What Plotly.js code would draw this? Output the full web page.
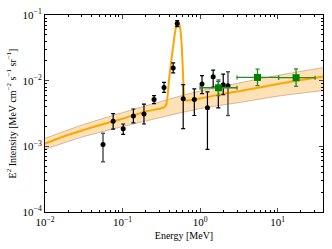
<!DOCTYPE html>
<html>
<head>
<meta charset="utf-8">
<script src="https://cdn.plot.ly/plotly-3.0.1.min.js"></script>
<style>html,body{margin:0;padding:0;background:#fff;}#chart{width:332px;height:249px;}</style>
</head>
<body>
<div id="chart"></div>
<script>
// Model curve (continuum + 511 keV line)
const modelE = [0.01, 0.02, 0.0316, 0.05, 0.1, 0.2, 0.316, 0.345, 0.365, 0.38, 0.40, 0.43, 0.455, 0.475, 0.495, 0.515, 0.535, 0.555, 0.578, 0.595, 0.607, 0.62, 0.64, 0.70, 1, 2, 3.16, 5, 10, 20, 40];
const modelI = [1.10e-3, 1.50e-3, 1.78e-3, 2.10e-3, 2.63e-3, 3.40e-3, 3.80e-3, 3.95e-3, 4.3e-3, 5.6e-3, 1.1e-2, 2.2e-2, 3.7e-2, 5.4e-2, 7.0e-2, 7.9e-2, 7.5e-2, 6.2e-2, 3.7e-2, 1.8e-2, 1.0e-2, 6.0e-3, 5.0e-3, 5.0e-3, 5.37e-3, 6.3e-3, 6.92e-3, 7.6e-3, 8.91e-3, 1.02e-2, 1.16e-2];
// Uncertainty band of the continuum
const bandE = [0.01, 0.0316, 0.1, 0.316, 1, 3.16, 10, 40];
const bandLo = [9.0e-4, 1.41e-3, 2.0e-3, 2.77e-3, 3.76e-3, 4.64e-3, 5.8e-3, 7.1e-3];
const bandHi = [1.32e-3, 2.15e-3, 3.26e-3, 4.83e-3, 6.98e-3, 9.2e-3, 1.2e-2, 1.59e-2];
// Black data points
const ptE = [0.0757, 0.102, 0.138, 0.189, 0.255, 0.343, 0.45, 0.507, 0.606, 0.843, 1.06, 1.245, 1.476, 1.72, 1.99];
const ptI = [2.4e-3, 1.85e-3, 2.9e-3, 3.1e-3, 5.15e-3, 7.9e-3, 1.56e-2, 7.4e-2, 5.3e-3, 5.15e-3, 8.9e-3, 3.86e-3, 1.15e-2, 7.8e-3, 8.7e-3];
const ptHi = [3.14e-3, 2.19e-3, 3.7e-3, 4.39e-3, 5.92e-3, 9.4e-3, 1.86e-2, 8.2e-2, 8.7e-3, 7.5e-3, 1.19e-2, 6.75e-3, 1.45e-2, 9.8e-3, 1.26e-2];
const ptLo = [1.83e-3, 1.52e-3, 2.27e-3, 2.19e-3, 4.48e-3, 6.64e-3, 1.31e-2, 6.67e-2, 1.86e-3, 2.95e-3, 6.35e-3, 9.0e-4, 8.0e-3, 3.85e-3, 6.1e-3];
// Gray-bar data points
const gpE = [0.056, 2.29];
const gpI = [1.07e-3, 8.4e-3];
const gpHi = [1.58e-3, 1.37e-2];
const gpLo = [5.8e-4, 2.96e-3];
// Green data points
const grE = [1.73, 5.5, 17.3];
const grI = [7.8e-3, 1.12e-2, 1.11e-2];
const grEmin = [1.0, 3.0, 10.3];
const grEmax = [3.0, 10.3, 30.5];
const grHi = [1.03e-2, 1.5e-2, 1.51e-2];
const grLo = [5.9e-3, 8.4e-3, 8.2e-3];
// Axis ticks
const xTickVals = [0.01, 0.1, 1, 10];
const xTickText = ['10<sup>−2</sup>', '10<sup>−1</sup>', '10<sup>0</sup>', '10<sup>1</sup>'];
const yTickVals = [1e-4, 1e-3, 1e-2, 1e-1];
const yTickText = ['10<sup>−4</sup>', '10<sup>−3</sup>', '10<sup>−2</sup>', '10<sup>−1</sup>'];

const up = (v, h) => h.map((x, i) => x - v[i]);
const dn = (v, l) => v.map((x, i) => x - l[i]);

const minorX = [];
[0.01, 0.1, 1, 10].forEach(d => { for (let k = 2; k <= 9; k++) { if (d * k <= 40) minorX.push(d * k); } });
const minorY = [];
[1e-4, 1e-3, 1e-2].forEach(d => { for (let k = 2; k <= 9; k++) minorY.push(d * k); });

const xr = [-2, Math.log10(38.5)];
const yr = [-4, -1];
const font = {family: 'Liberation Serif, DejaVu Serif, serif', size: 10, color: '#000'};
const tfont = {family: 'Liberation Serif, DejaVu Serif, serif', size: 11, color: '#000'};

const traces = [
  {x: bandE, y: bandLo, type: 'scatter', mode: 'lines', line: {color: 'rgb(200,170,130)', width: 0.8, shape: 'spline'}, hoverinfo: 'skip'},
  {x: bandE, y: bandHi, type: 'scatter', mode: 'lines', fill: 'tonexty', fillcolor: 'rgba(253,200,120,0.55)', line: {color: 'rgb(200,170,130)', width: 0.8, shape: 'spline'}, hoverinfo: 'skip'},
  {x: modelE, y: modelI, type: 'scatter', mode: 'lines', line: {color: '#FFA500', width: 2, shape: 'spline', smoothing: 0.5}},
  {x: gpE, y: gpI, type: 'scatter', mode: 'markers', marker: {color: '#000', size: 5},
   error_y: {type: 'data', symmetric: false, array: up(gpI, gpHi), arrayminus: dn(gpI, gpLo), color: '#555', thickness: 1.5, width: 2}},
  {x: ptE, y: ptI, type: 'scatter', mode: 'markers', marker: {color: '#000', size: 5},
   error_y: {type: 'data', symmetric: false, array: up(ptI, ptHi), arrayminus: dn(ptI, ptLo), color: '#000', thickness: 1.2, width: 2}},
  {x: grE, y: grI, type: 'scatter', mode: 'markers', marker: {color: '#008000', size: 7, symbol: 'square'},
   error_x: {type: 'data', symmetric: false, array: up(grE, grEmax), arrayminus: dn(grE, grEmin), color: '#2a8a2a', thickness: 1.3, width: 2},
   error_y: {type: 'data', symmetric: false, array: up(grI, grHi), arrayminus: dn(grI, grLo), color: '#2a8a2a', thickness: 1.3, width: 2}},
  {x: [1], y: [1e-3], xaxis: 'x2', yaxis: 'y2', mode: 'markers', marker: {opacity: 0}, hoverinfo: 'skip'}
];

const layout = {
  width: 332, height: 249,
  margin: {l: 45, r: 9, t: 15, b: 37},
  paper_bgcolor: '#fff', plot_bgcolor: '#fff',
  showlegend: false,
  font: font,
  xaxis: {type: 'log', range: xr, tickvals: xTickVals, ticktext: xTickText, ticks: 'inside', ticklen: 4,
    showgrid: false, zeroline: false, showline: true, linecolor: '#000', linewidth: 1, mirror: 'ticks',
    tickfont: tfont, title: {text: 'Energy [MeV]', font: font, standoff: 4}},
  yaxis: {type: 'log', range: yr, tickvals: yTickVals, ticktext: yTickText, ticks: 'inside', ticklen: 4,
    showgrid: false, zeroline: false, showline: true, linecolor: '#000', linewidth: 1, mirror: 'ticks',
    tickfont: tfont, title: {text: 'E<sup>2</sup> Intensity [MeV cm<sup>−2</sup> s<sup>−1</sup> sr<sup>−1</sup>]', font: font, standoff: 4}},
  xaxis2: {type: 'log', range: xr, overlaying: 'x', tickvals: minorX, ticks: 'inside', ticklen: 2, showticklabels: false,
    showgrid: false, zeroline: false, showline: false, mirror: 'ticks', tickcolor: '#000'},
  yaxis2: {type: 'log', range: yr, overlaying: 'y', tickvals: minorY, ticks: 'inside', ticklen: 2, showticklabels: false,
    showgrid: false, zeroline: false, showline: false, mirror: 'ticks', tickcolor: '#000'}
};

Plotly.newPlot('chart', traces, layout, {displayModeBar: false, staticPlot: true});
</script>
</body>
</html>
